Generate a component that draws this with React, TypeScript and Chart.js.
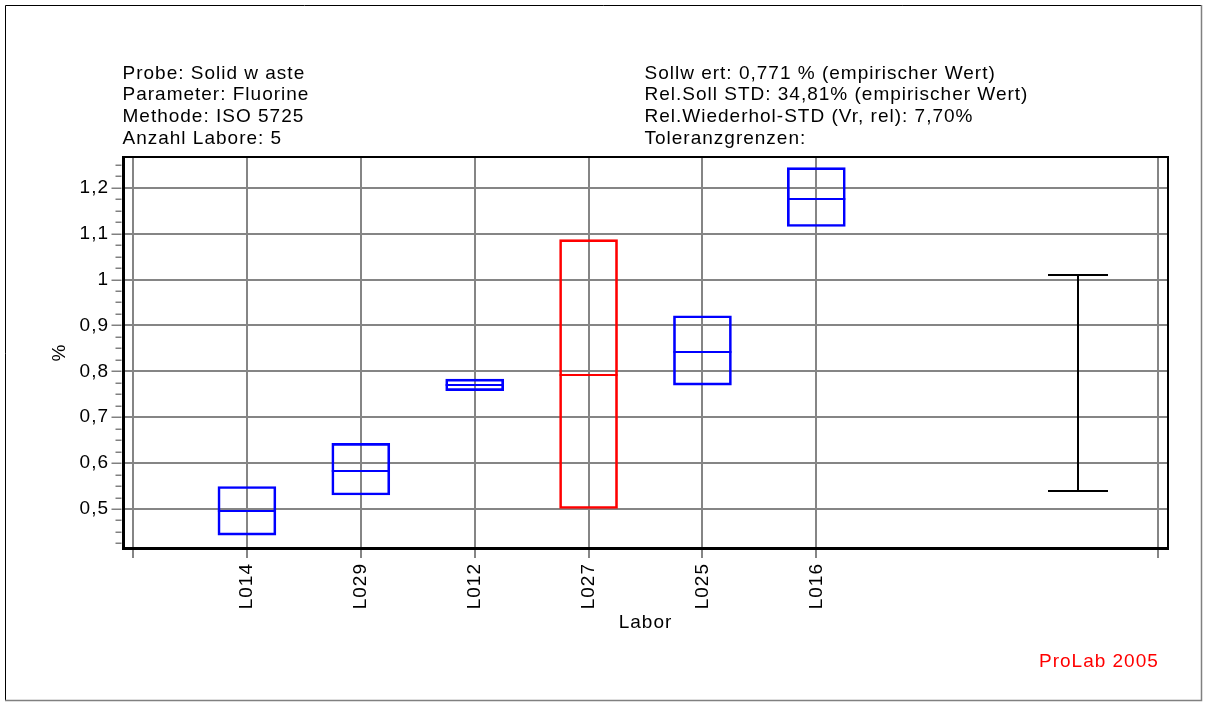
import React, { useEffect, useRef } from 'react';
import { Chart, registerables } from 'chart.js';

Chart.register(...registerables);

// ---- data ----
const labs = ['L014', 'L029', 'L012', 'L027', 'L025', 'L016'];
const labPositions = [1, 2, 3, 4, 5, 6];
const boxLow = [0.443, 0.5305, 0.758, 0.501, 0.77, 1.1155];
const boxHigh = [0.549, 0.643, 0.783, 1.087, 0.921, 1.244];
const boxMedian = [0.495, 0.582, 0.771, 0.792, 0.843, 1.176];
const boxColors = ['#0000ff', '#0000ff', '#0000ff', '#ff0000', '#0000ff', '#0000ff'];
const toleranceUpper = 1.01;
const toleranceLower = 0.54;
const tolerancePosition = 8.3;
const xTickValues = [0, 1, 2, 3, 4, 5, 6, 9];
const yMajorTicks = [0.5, 0.6, 0.7, 0.8, 0.9, 1.0, 1.1, 1.2];
const yMinorStep = 0.025;
const yTickFirst = 0.425;
const yTickLast = 1.25;
const infoLeft = ['Probe: Solid w aste', 'Parameter: Fluorine', 'Methode: ISO 5725', 'Anzahl Labore: 5'];
const infoRight = [
  'Sollw ert: 0,771 % (empirischer Wert)',
  'Rel.Soll STD: 34,81% (empirischer Wert)',
  'Rel.Wiederhol-STD (Vr, rel): 7,70%',
  'Toleranzgrenzen:',
];
const yTitle = '%';
const xTitle = 'Labor';
const footerText = 'ProLab 2005';

// ---- axis ranges ----
const Y_MIN = 0.415;
const Y_MAX = 1.267;
const X_MIN = -0.088;
const X_MAX = 9.088;

// ---- styles ----
const FONT_FAMILY = '"Liberation Sans", Arial, sans-serif';
const FONT_SIZE = 19;
const LETTER_SPACING = '1px';
const GRID_COLOR = '#858585';
const BOX_THICKNESS = 58;
const CAP_HALF = 30;

const yAllTicks: number[] = [];
for (let v = yTickFirst; v <= yTickLast + 1e-9; v += yMinorStep) {
  yAllTicks.push(Math.round(v * 1000) / 1000);
}
const isMajor = (v: number) => yMajorTicks.some((m) => Math.abs(m - v) < 1e-6);
const fmt = (v: number) => String(Math.round(v * 10) / 10).replace('.', ',');

const decorPlugin = {
  id: 'decor',
  beforeDraw(chart: any) {
    const ctx = chart.ctx;
    ctx.save();
    ctx.fillStyle = '#ffffff';
    ctx.fillRect(0, 0, chart.width, chart.height);
    ctx.restore();
    ctx.letterSpacing = LETTER_SPACING;
  },
  afterDatasetsDraw(chart: any) {
    const ctx = chart.ctx;
    const ys = chart.scales.y;
    const xs = chart.scales.x;
    const meta = chart.getDatasetMeta(0);
    ctx.save();
    meta.data.forEach((el: any, i: number) => {
      const { x, width } = el.getProps(['x', 'width'], true);
      const y = Math.round(ys.getPixelForValue(boxMedian[i]));
      ctx.strokeStyle = boxColors[i];
      ctx.lineWidth = 2;
      ctx.beginPath();
      ctx.moveTo(x - width / 2, y);
      ctx.lineTo(x + width / 2, y);
      ctx.stroke();
    });
    // tolerance limits
    const tx = Math.round(xs.getPixelForValue(tolerancePosition));
    const yu = Math.round(ys.getPixelForValue(toleranceUpper));
    const yl = Math.round(ys.getPixelForValue(toleranceLower));
    ctx.strokeStyle = '#000000';
    ctx.lineWidth = 2;
    ctx.beginPath();
    ctx.moveTo(tx, yu);
    ctx.lineTo(tx, yl);
    ctx.moveTo(tx - CAP_HALF, yu);
    ctx.lineTo(tx + CAP_HALF, yu);
    ctx.moveTo(tx - CAP_HALF, yl);
    ctx.lineTo(tx + CAP_HALF, yl);
    ctx.stroke();
    ctx.restore();
  },
  afterDraw(chart: any) {
    const ctx = chart.ctx;
    const { left, top, right, bottom } = chart.chartArea;
    const ys = chart.scales.y;
    ctx.save();
    // plot top/right border
    ctx.strokeStyle = '#000000';
    ctx.lineWidth = 2;
    ctx.beginPath();
    ctx.moveTo(left, top);
    ctx.lineTo(right, top);
    ctx.lineTo(right, bottom);
    ctx.stroke();
    // y tick marks
    ctx.strokeStyle = '#808080';
    ctx.lineWidth = 1.5;
    ys.ticks.forEach((t: any) => {
      const y = Math.round(ys.getPixelForValue(t.value)) + 0.25;
      const len = isMajor(t.value) ? 10 : 6;
      ctx.beginPath();
      ctx.moveTo(left - 1.5 - len, y);
      ctx.lineTo(left - 1.5, y);
      ctx.stroke();
    });
    // outer frame
    ctx.lineWidth = 1;
    ctx.strokeStyle = '#000000';
    ctx.beginPath();
    ctx.moveTo(5.5, 701);
    ctx.lineTo(5.5, 5.5);
    ctx.lineTo(1202, 5.5);
    ctx.stroke();
    ctx.strokeStyle = '#808080';
    ctx.lineWidth = 1.5;
    ctx.beginPath();
    ctx.moveTo(1201.5, 5);
    ctx.lineTo(1201.5, 700.5);
    ctx.lineTo(5, 700.5);
    ctx.stroke();
    // header text
    ctx.letterSpacing = LETTER_SPACING;
    ctx.font = `${FONT_SIZE}px ${FONT_FAMILY}`;
    ctx.fillStyle = '#000000';
    ctx.textAlign = 'left';
    ctx.textBaseline = 'alphabetic';
    infoLeft.forEach((s, i) => ctx.fillText(s, 122.5, 78.5 + i * 21.7));
    infoRight.forEach((s, i) => ctx.fillText(s, 644.5, 78.5 + i * 21.7));
    ctx.fillStyle = '#ff0000';
    ctx.fillText(footerText, 1039, 667);
    ctx.restore();
  },
};

export default function App() {
  const ref = useRef<HTMLCanvasElement | null>(null);
  useEffect(() => {
    if (!ref.current) return;
    Chart.defaults.font.family = FONT_FAMILY;
    Chart.defaults.font.size = FONT_SIZE;
    Chart.defaults.color = '#000000';
    const chart = new Chart(ref.current, {
      type: 'bar',
      data: {
        datasets: [
          {
            data: labPositions.map((x, i) => ({ x, y: [boxLow[i], boxHigh[i]] })) as any,
            backgroundColor: 'rgba(0,0,0,0)',
            borderColor: boxColors,
            borderWidth: 2,
            borderSkipped: false,
            barThickness: BOX_THICKNESS,
            grouped: false,
          } as any,
        ],
      },
      options: {
        responsive: false,
        animation: false,
        devicePixelRatio: 1,
        layout: { padding: { left: 0, top: 157, right: 38, bottom: 55 } },
        plugins: { legend: { display: false }, tooltip: { enabled: false } },
        scales: {
          x: {
            type: 'linear',
            min: X_MIN,
            max: X_MAX,
            offset: false,
            afterBuildTicks: (scale: any) => {
              scale.ticks = xTickValues.map((v) => ({ value: v }));
            },
            afterFit: (scale: any) => {
              scale.height = 100;
            },
            grid: { offset: false, color: GRID_COLOR, lineWidth: 2, tickLength: 10, drawTicks: true },
            border: { display: true, color: '#000000', width: 3 },
            ticks: {
              autoSkip: false,
              minRotation: 90,
              maxRotation: 90,
              padding: 5,
              color: '#000000',
              font: { size: FONT_SIZE, family: FONT_FAMILY },
              callback: (v: any) => {
                const i = labPositions.indexOf(Number(v));
                return i >= 0 ? labs[i] : '';
              },
            },
            title: {
              display: true,
              text: xTitle,
              color: '#000000',
              font: { size: FONT_SIZE, family: FONT_FAMILY },
              padding: { top: 0, bottom: 13.5 },
            },
          },
          y: {
            type: 'linear',
            min: Y_MIN,
            max: Y_MAX,
            beginAtZero: false,
            afterBuildTicks: (scale: any) => {
              scale.ticks = yAllTicks.map((v) => ({ value: v }));
            },
            afterFit: (scale: any) => {
              scale.width = 123;
            },
            grid: {
              color: (c: any) => (c.tick && isMajor(c.tick.value) ? GRID_COLOR : 'rgba(0,0,0,0)'),
              lineWidth: 2,
              drawTicks: false,
            },
            border: { display: true, color: '#000000', width: 3 },
            ticks: {
              autoSkip: false,
              padding: 14,
              color: '#000000',
              font: { size: FONT_SIZE, family: FONT_FAMILY },
              callback: (v: any) => (isMajor(Number(v)) ? fmt(Number(v)) : ''),
            },
            title: {
              display: true,
              text: yTitle,
              color: '#000000',
              font: { size: FONT_SIZE, family: FONT_FAMILY },
              padding: { top: 48.6, bottom: 0 },
            },
          },
        },
      },
      plugins: [decorPlugin],
    } as any);
    return () => chart.destroy();
  }, []);
  return (
    <div style={{ position: 'absolute', left: 0, top: 0, width: 1206, height: 703 }}>
      <canvas ref={ref} width={1206} height={703} style={{ display: 'block' }} />
    </div>
  );
}
